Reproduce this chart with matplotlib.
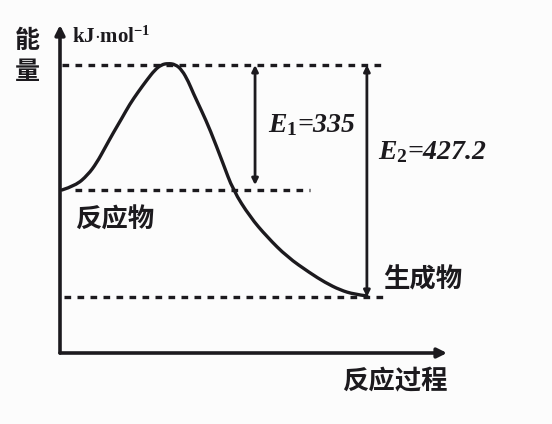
import matplotlib
matplotlib.use("Agg")
import matplotlib.pyplot as plt
from matplotlib.path import Path
from matplotlib.patches import PathPatch

plt.rcParams['mathtext.fontset'] = 'custom'
plt.rcParams['mathtext.it'] = 'Liberation Serif:italic:bold'
plt.rcParams['mathtext.rm'] = 'Liberation Serif:bold'

# Schematic energy levels (axis units)
level_ts = 8.78
level_reactant = 4.97
level_product = 1.71

# Reaction profile (progress, energy), axis units
curve_x = [0.05, 0.40, 0.72, 0.95, 1.16, 1.38, 1.60, 1.80, 2.02, 2.25, 2.45, 2.62,
           2.79, 2.98, 3.15, 3.32, 3.44, 3.66, 3.88, 4.21, 4.47, 4.91, 5.35, 5.87,
           6.46, 6.85, 7.24, 7.60, 7.93]
curve_y = [4.97, 5.10, 5.43, 5.80, 6.25, 6.72, 7.16, 7.58, 7.96, 8.33, 8.63, 8.79,
           8.83, 8.80, 8.63, 8.27, 7.93, 7.38, 6.80, 5.79, 4.97, 4.15, 3.54, 2.93,
           2.44, 2.15, 1.92, 1.79, 1.74]

e1_label = r'$E_1$=335'
e2_label = r'$E_2$=427.2'
ink = '#1c1a1e'
cjk = ['Noto Sans CJK SC', 'DejaVu Sans']

fig = plt.figure(figsize=(5.52, 4.24), dpi=100)
fig.patch.set_facecolor('#fcfcfc')
ax = fig.add_axes([60/552, (424-353)/424, (447-60)/552, (353-25)/424])
ax.set_xlim(0, 10)
ax.set_ylim(0, 10)
ax.set_facecolor('none')
for s in ax.spines.values():
    s.set_visible(False)
ax.set_xticks([])
ax.set_yticks([])

# axes with arrows
ax.annotate('', xy=(0, 1.0), xytext=(0, 0), xycoords='axes fraction',
            arrowprops=dict(arrowstyle='-|>', lw=2.6, color=ink, mutation_scale=14,
                            shrinkA=0, shrinkB=0))
ax.annotate('', xy=(1.0, 0), xytext=(0, 0), xycoords='axes fraction',
            arrowprops=dict(arrowstyle='-|>', lw=2.6, color=ink, mutation_scale=14,
                            shrinkA=0, shrinkB=0))

dot = (0, (2.0, 1.9))
ax.plot([0.05, 8.4], [level_ts, level_ts], color=ink, lw=2.4, ls=dot)
ax.plot([0.39, 6.46], [level_reactant, level_reactant], color=ink, lw=2.4, ls=dot)
ax.plot([0.10, 8.45], [level_product, level_product], color=ink, lw=2.4, ls=dot)

# smooth profile: read points used as quadratic Bezier control points
pts = list(zip(curve_x, curve_y))
verts = [pts[0]]
codes = [Path.MOVETO]
for i in range(1, len(pts) - 1):
    verts.append(pts[i])
    if i < len(pts) - 2:
        verts.append(((pts[i][0] + pts[i+1][0]) / 2, (pts[i][1] + pts[i+1][1]) / 2))
    else:
        verts.append(pts[-1])
    codes += [Path.CURVE3, Path.CURVE3]
ax.add_patch(PathPatch(Path(verts, codes), fill=False, edgecolor=ink, lw=2.4,
                       capstyle='round', joinstyle='round'))

# energy arrows
ax.annotate('', xy=(5.04, level_ts), xytext=(5.04, level_reactant + 0.15),
            arrowprops=dict(arrowstyle='<|-|>', lw=2.0, color=ink, mutation_scale=9,
                            shrinkA=0, shrinkB=0))
ax.annotate('', xy=(7.93, level_ts), xytext=(7.93, level_product),
            arrowprops=dict(arrowstyle='<|-|>', lw=2.0, color=ink, mutation_scale=9,
                            shrinkA=0, shrinkB=0))

serif = dict(family='Liberation Serif', style='italic', weight='bold', color=ink)
ax.text(5.37, 6.95, e1_label, fontsize=20, va='center', ha='left', **serif)
ax.text(8.22, 6.13, e2_label, fontsize=20, va='center', ha='left', clip_on=False, **serif)
ax.text(0.31, 9.63, r'kJ$\cdot$mol$^{-1}$', fontsize=15, va='center', ha='left',
        family='Liberation Serif', weight='bold', color=ink, clip_on=False)

ax.text(-0.85, 9.51, '能', fontsize=18, va='center', ha='center', family=cjk,
        weight='heavy', color=ink, clip_on=False)
ax.text(-0.85, 8.57, '量', fontsize=18, va='center', ha='center', family=cjk,
        weight='heavy', color=ink, clip_on=False)
ax.text(0.39, 4.05, '反应物', fontsize=19, va='center', ha='left', family=cjk,
        weight='heavy', color=ink)
ax.text(8.35, 2.23, '生成物', fontsize=19, va='center', ha='left', family=cjk,
        weight='heavy', color=ink, clip_on=False)
ax.text(8.66, -0.88, '反应过程', fontsize=19, va='center', ha='center', family=cjk,
        weight='heavy', color=ink, clip_on=False)

fig.savefig('out.png', dpi=100, facecolor=fig.get_facecolor())
